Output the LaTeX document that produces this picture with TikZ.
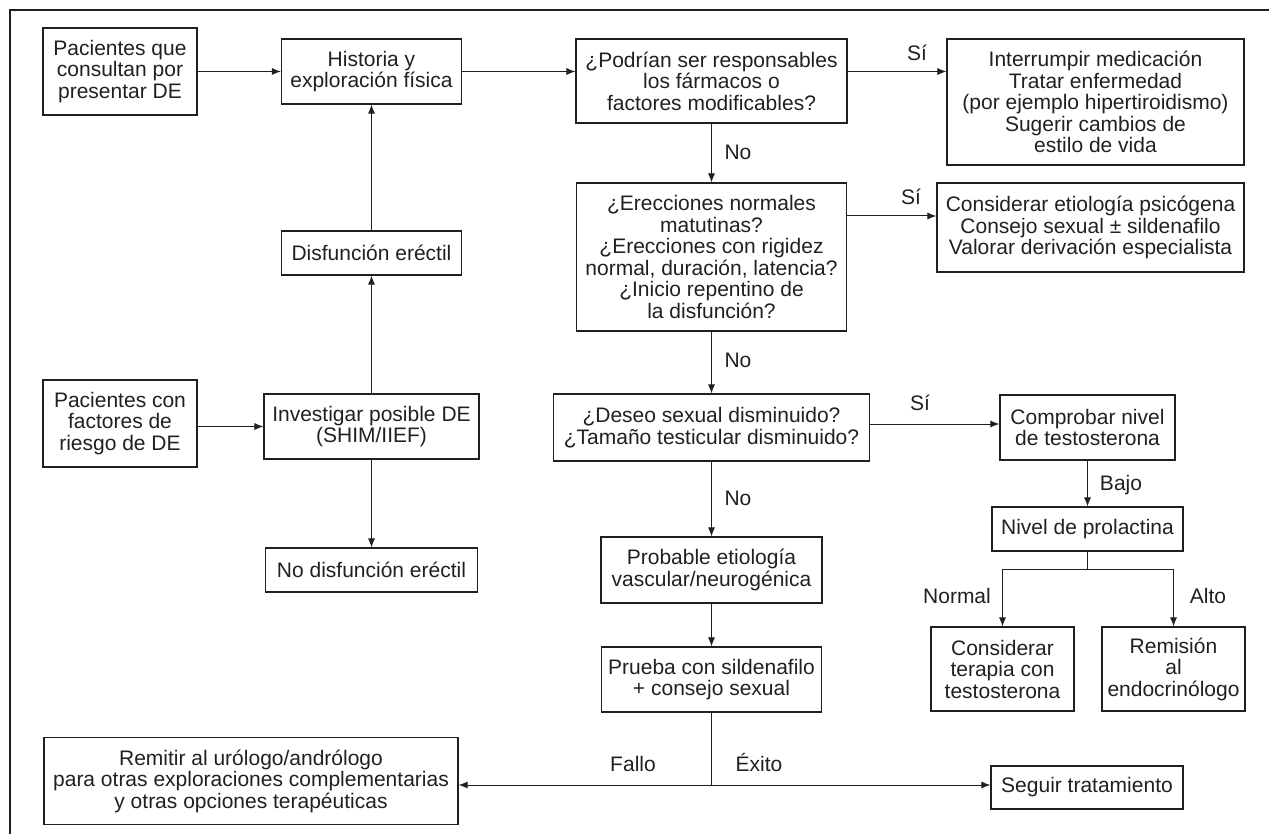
\documentclass[tikz,border=0pt]{standalone}
\usepackage{fontspec}
\setmainfont{Liberation Sans}
\usetikzlibrary{arrows.meta}
\definecolor{ink}{HTML}{231F20}
\begin{document}
\begin{tikzpicture}[x=1pt,y=-1pt,
  box/.style={draw=ink, line width=1.1pt, inner sep=0pt, align=center, text=ink, font=\fontsize{21}{21.5}\selectfont},
  lbl/.style={text=ink, font=\fontsize{21}{21.5}\selectfont, inner sep=0pt, anchor=base},
  conn/.style={draw=ink, line width=1pt},
  arr/.style={conn, -{Latex[length=9pt,width=7pt]}}]
\useasboundingbox (0,0) rectangle (1269,834);
\draw[ink, line width=1.2pt] (10,834) -- (10,10) -- (1269,10);

% left column
\node[box, minimum width=154pt, minimum height=87pt] (pac1) at (120,71.5) {Pacientes que\\consultan por\\presentar DE};
\node[box, minimum width=180pt, minimum height=65pt] (hist) at (371.5,71.5) {Historia y\\exploración física};
\node[box, minimum width=180pt, minimum height=44pt] (disf) at (371.5,253) {Disfunción eréctil};
\node[box, minimum width=154pt, minimum height=87pt] (pac2) at (120,423.5) {Pacientes con\\factores de\\riesgo de DE};
\node[box, minimum width=215pt, minimum height=65pt] (inv) at (371.5,426.5) {Investigar posible DE\\(SHIM/IIEF)};
\node[box, minimum width=212pt, minimum height=44pt] (nodisf) at (371.5,570) {No disfunción eréctil};

% main column
\node[box, minimum width=271pt, minimum height=84pt] (podr) at (711.5,81) {¿Podrían ser responsables\\los fármacos o\\factores modificables?};
\node[box, minimum width=270pt, minimum height=148pt] (erec) at (711.5,257) {¿Erecciones normales\\matutinas?\\¿Erecciones con rigidez\\normal, duración, latencia?\\¿Inicio repentino de\\la disfunción?};
\node[box, minimum width=316pt, minimum height=67pt] (deseo) at (711.5,427.5) {¿Deseo sexual disminuido?\\¿Tamaño testicular disminuido?};
\node[box, minimum width=221pt, minimum height=66pt] (prob) at (711.5,570) {Probable etiología\\vascular/neurogénica};
\node[box, minimum width=220pt, minimum height=65pt] (prueba) at (711.5,679.5) {Prueba con sildenafilo\\+ consejo sexual};

% right column
\node[box, minimum width=297pt, minimum height=126pt] (inter) at (1095.5,102) {Interrumpir medicación\\Tratar enfermedad\\(por ejemplo hipertiroidismo)\\Sugerir cambios de\\estilo de vida};
\node[box, minimum width=307pt, minimum height=89pt] (cons) at (1090.5,227.5) {Considerar etiología psicógena\\Consejo sexual ± sildenafilo\\Valorar derivación especialista};
\node[box, minimum width=175pt, minimum height=65pt] (comp) at (1087.5,427.5) {Comprobar nivel\\de testosterona};
\node[box, minimum width=191pt, minimum height=44pt] (prol) at (1087.5,529) {Nivel de prolactina};
\node[box, minimum width=143pt, minimum height=84pt] (terap) at (1002.5,669) {Considerar\\terapia con\\testosterona};
\node[box, minimum width=143pt, minimum height=84pt] (remis) at (1173.5,669) {Remisión\\al\\endocrinólogo};

% bottom
\node[box, minimum width=414pt, minimum height=87pt] (remit) at (251,781) {Remitir al urólogo/andrólogo\\para otras exploraciones complementarias\\y otras opciones terapéuticas};
\node[box, minimum width=192pt, minimum height=43pt] (seguir) at (1087,787.5) {Seguir tratamiento};

% connectors left
\draw[arr] (pac1.east) -- (hist.west);
\draw[arr] (pac2.east |- inv.west) -- (inv.west);
\draw[arr] (inv.north) -- (disf.south);
\draw[arr] (disf.north) -- (hist.south);
\draw[arr] (inv.south) -- (nodisf.north);

% main flow
\draw[arr] (hist.east) -- (hist.east -| podr.west);
\draw[arr] (podr.east |- hist.east) -- (inter.west |- hist.east);
\draw[arr] (podr.south) -- (erec.north);
\coordinate (ey) at (0,216);
\draw[arr] (erec.east |- ey) -- (cons.west |- ey);
\draw[arr] (erec.south) -- (deseo.north);
\coordinate (dy) at (0,424);
\draw[arr] (deseo.east |- dy) -- (comp.west |- dy);
\draw[arr] (comp.south) -- (prol.north);
\draw[arr] (prol.south) -- ++(0,18) -| (terap.north);
\draw[arr] (prol.south) -- ++(0,18) -| (remis.north);
\draw[arr] (deseo.south) -- (prob.north);
\draw[arr] (prob.south) -- (prueba.north);
\coordinate (fork) at (711.5,785);
\draw[conn] (prueba.south) -- (fork);
\draw[arr] (fork) -- (fork -| remit.east);
\draw[arr] (fork) -- (fork -| seguir.west);

% labels
\node[lbl] (s1) at (917,60.5) {Sí};
\node[lbl] (n1) at (738,159.5) {No};
\node[lbl] (s2) at (911,204.5) {Sí};
\node[lbl] (n2) at (738,367.5) {No};
\node[lbl] (s3) at (920,410.5) {Sí};
\node[lbl] (n3) at (738,505.5) {No};
\node[lbl] (bajo) at (1121,490) {Bajo};
\node[lbl] (normal) at (957,603.5) {Normal};
\node[lbl] (alto) at (1208,603.5) {Alto};
\node[lbl] (fallo) at (633,771.5) {Fallo};
\node[lbl] (exito) at (759,771.5) {Éxito};
\end{tikzpicture}
\end{document}
